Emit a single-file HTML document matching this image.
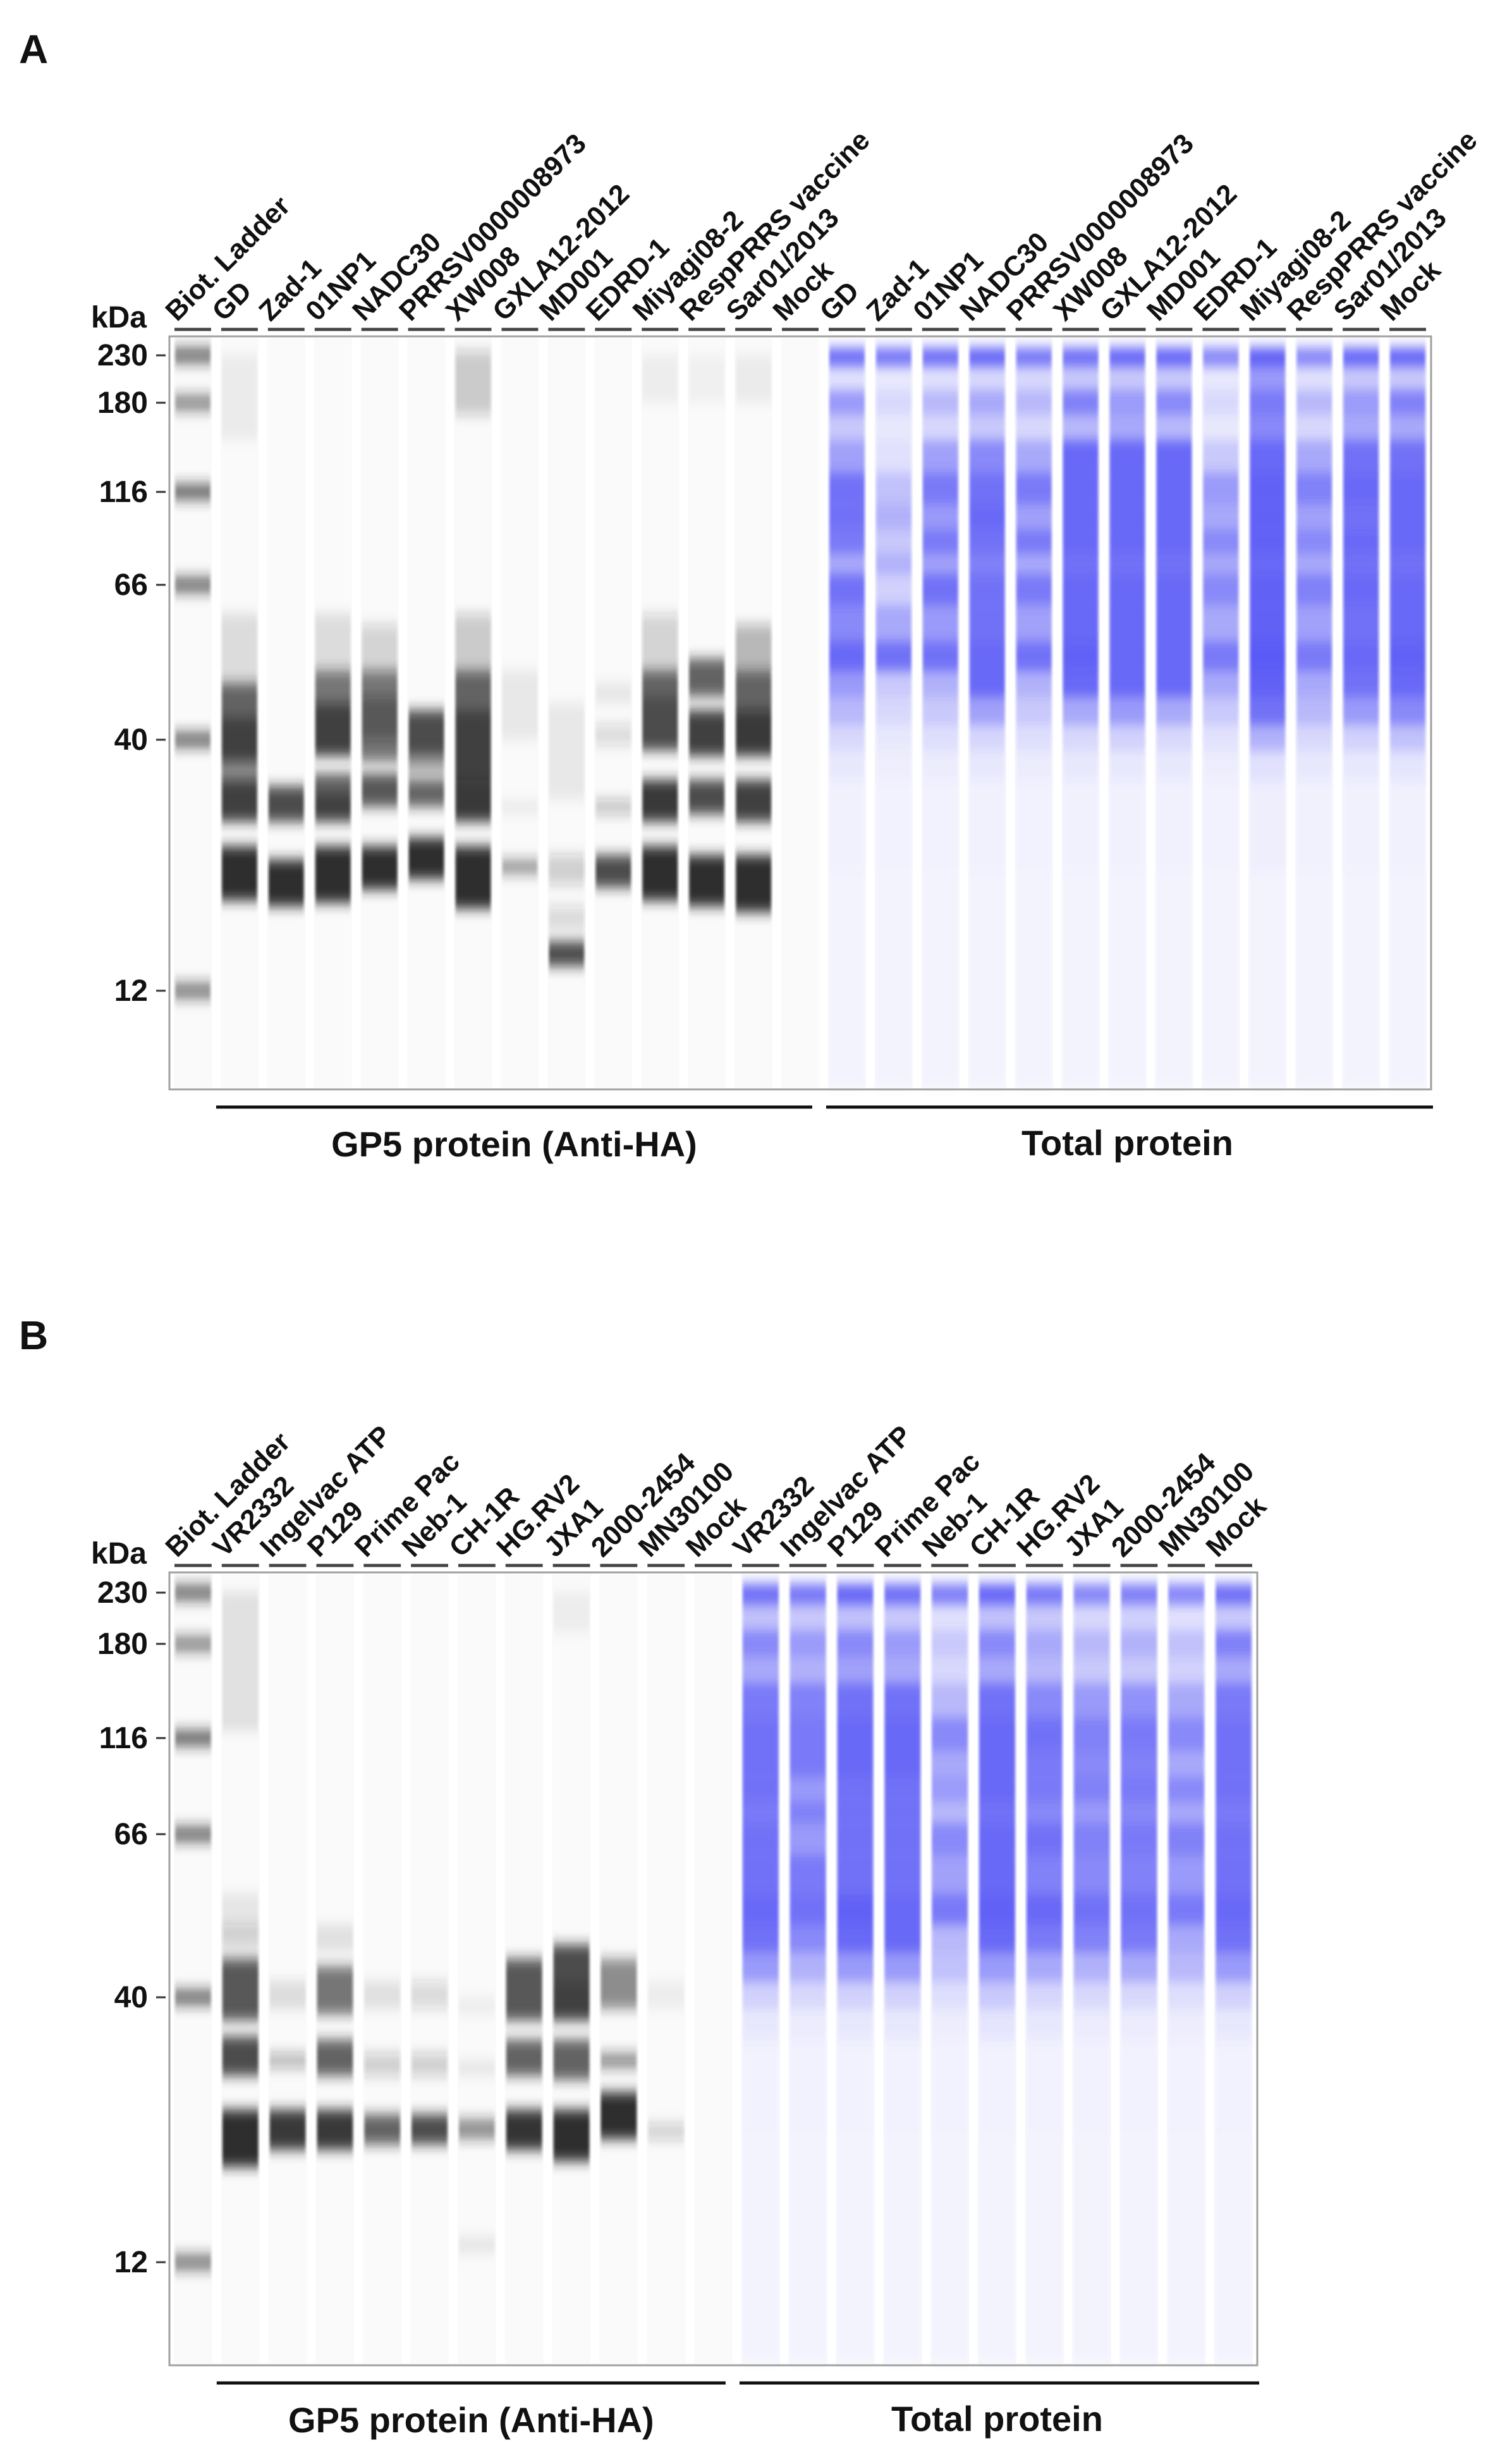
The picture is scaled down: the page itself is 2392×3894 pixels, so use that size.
<!DOCTYPE html>
<html><head><meta charset="utf-8">
<style>
html,body{margin:0;padding:0;background:#fff;}
svg{display:block;}
text{font-family:"Liberation Sans",Arial,sans-serif;font-weight:bold;fill:#111;}
.tick{font-family:"Liberation Sans Narrow","Liberation Sans",sans-serif;font-size:48px;}
</style></head>
<body>
<svg id="fig" width="2392" height="3894" viewBox="0 0 2392 3894" xmlns="http://www.w3.org/2000/svg">
<defs>
<filter id="blurY" x="-5%" y="-50%" width="110%" height="200%"><feGaussianBlur stdDeviation="2 10"/></filter>
<filter id="blurB" x="-5%" y="-50%" width="110%" height="200%"><feGaussianBlur stdDeviation="2 9"/></filter>
</defs>
<text x="30" y="100" font-size="64">A</text>
<text x="30" y="2134" font-size="64">B</text>
<g id="panelA"></g>
<g id="panelB"></g>
</svg>
<script>
// ---------- DATA ----------
const markerKDa = [230, 180, 116, 66, 40, 12];
const ladderIntensity = [0.6, 0.5, 0.65, 0.6, 0.6, 0.55];

const lanesA = ["GD","Zad-1","01NP1","NADC30","PRRSV0000008973","XW008","GXLA12-2012","MD001","EDRD-1","Miyagi08-2","RespPRRS vaccine","Sar01/2013","Mock"];
const lanesB = ["VR2332","Ingelvac ATP","P129","Prime Pac","Neb-1","CH-1R","HG.RV2","JXA1","2000-2454","MN30100","Mock"];

// GP5 bands: [top kDa, bottom kDa, intensity]
const gp5A_GD = [[230,150,.06],[60,48,.12],[48,43,.7],[43,36,.85],[36,33,.5],[33,27,.85],[24,18.5,.95]];
const gp5A_Zad1 = [[32,27,.8],[22.5,18,.95]];
const gp5A_01NP1 = [[60,50,.12],[50,45,.6],[45,37,.85],[34,31,.7],[31,27,.85],[24,18.3,.95]];
const gp5A_NADC30 = [[58,50,.18],[50,46,.6],[46,40,.75],[40,36,.6],[34,29,.75],[24,19.5,.95]];
const gp5A_PRRSV = [[44,37,.8],[37,34,.4],[33,29,.7],[25,20.5,.95]];
const gp5A_XW008 = [[235,170,.22],[60,50,.22],[50,44,.7],[44,33,.85],[33,27,.9],[24,17.8,.95]];
const gp5A_GXLA = [[50,40,.07],[30,28,.06],[22.5,21,.45]];
const gp5A_MD001 = [[45,30,.07],[23,20,.2],[18,16,.15],[15.2,13.5,.8]];
const gp5A_EDRD = [[48,45,.08],[42,39,.15],[30,28,.25],[23,19.7,.8]];
const gp5A_Miyagi = [[230,180,.05],[60,50,.18],[50,46,.7],[46,38,.8],[33,27,.9],[24,18.5,.95]];
const gp5A_Resp = [[230,180,.04],[52,46,.7],[44,37,.85],[33,28,.8],[23,18,.95]];
const gp5A_Sar = [[230,180,.06],[58,50,.3],[50,44,.7],[44,37,.9],[33,27,.85],[23,17.5,.95]];
const gp5A_Mock = [];
const gp5A = [gp5A_GD,gp5A_Zad1,gp5A_01NP1,gp5A_NADC30,gp5A_PRRSV,gp5A_XW008,gp5A_GXLA,gp5A_MD001,gp5A_EDRD,gp5A_Miyagi,gp5A_Resp,gp5A_Sar,gp5A_Mock];

const gp5B_VR = [[230,120,.1],[55,48,.08],[50,46,.15],[45,36,.75],[33.5,28,.8],[24,18.5,.95]];
const gp5B_Ing = [[42,38,.12],[31,29,.3],[24,20,.9]];
const gp5B_P129 = [[50,46,.1],[44,37,.6],[33,28,.7],[24,20,.9]];
const gp5B_Prime = [[42,38,.1],[31,28,.2],[23.5,20.5,.7]];
const gp5B_Neb = [[42,38,.15],[31,28,.2],[23.5,20.5,.8]];
const gp5B_CH = [[40,37,.05],[30,28,.08],[23,21,.5],[13.5,12.5,.08]];
const gp5B_HG = [[45,36,.75],[33,28,.7],[24,20,.92]];
const gp5B_JXA = [[230,190,.05],[47,42,.8],[42,36,.85],[33,27.5,.7],[24,19,.95]];
const gp5B_2000 = [[45,38,.5],[31,29,.5],[26,21,.95]];
const gp5B_MN = [[42,38,.05],[22.5,21,.2]];
const gp5B_Mock = [];
const gp5B = [gp5B_VR,gp5B_Ing,gp5B_P129,gp5B_Prime,gp5B_Neb,gp5B_CH,gp5B_HG,gp5B_JXA,gp5B_2000,gp5B_MN,gp5B_Mock];

// Total protein: intensity at sample kDa positions
const totalKDa = [230,205,180,160,140,116,100,85,75,66,58,52,48,44,40,36,30,15];
const totA_GD = [.85,.15,.6,.3,.55,.85,.85,.8,.5,.85,.7,.9,.6,.4,.2,.1,.05,.03];
const totA_Zad1 = [.8,.1,.2,.1,.15,.35,.45,.3,.45,.25,.5,.85,.3,.2,.1,.06,.04,.03];
const totA_01NP1 = [.85,.15,.4,.2,.55,.8,.6,.8,.55,.85,.6,.85,.45,.3,.16,.08,.04,.03];
const totA_NADC30 = [.9,.2,.5,.3,.7,.85,.9,.85,.75,.85,.85,.9,.9,.55,.22,.1,.05,.03];
const totA_PRRSV = [.8,.2,.4,.2,.5,.8,.55,.8,.5,.8,.55,.85,.45,.3,.16,.08,.04,.03];
const totA_XW008 = [.85,.3,.75,.4,.9,.9,.9,.9,.85,.9,.9,.95,.9,.5,.2,.1,.05,.03];
const totA_GXLA = [.9,.3,.6,.5,.9,.9,.9,.9,.85,.9,.9,.9,.9,.6,.25,.1,.05,.03];
const totA_MD001 = [.9,.3,.7,.4,.9,.9,.9,.9,.85,.9,.9,.9,.9,.5,.2,.1,.05,.03];
const totA_EDRD = [.7,.1,.2,.1,.3,.6,.5,.7,.5,.7,.5,.8,.5,.3,.14,.07,.04,.03];
const totA_Miyagi = [.95,.6,.8,.7,.9,.95,.95,.95,.9,.95,.95,1,.95,.85,.45,.15,.06,.03];
const totA_Resp = [.7,.15,.4,.2,.5,.75,.55,.7,.5,.75,.55,.8,.5,.4,.2,.1,.05,.03];
const totA_Sar = [.9,.3,.6,.5,.85,.9,.85,.9,.85,.9,.85,.9,.85,.6,.25,.1,.05,.03];
const totA_Mock = [.9,.3,.75,.5,.85,.9,.9,.9,.85,.9,.9,.95,.9,.7,.35,.12,.05,.03];
const totA = [totA_GD,totA_Zad1,totA_01NP1,totA_NADC30,totA_PRRSV,totA_XW008,totA_GXLA,totA_MD001,totA_EDRD,totA_Miyagi,totA_Resp,totA_Sar,totA_Mock];

const totB_VR = [.85,.35,.7,.5,.8,.85,.85,.85,.8,.85,.85,.9,.85,.6,.25,.1,.04,.03];
const totB_Ing = [.8,.3,.6,.45,.75,.8,.8,.6,.75,.6,.8,.85,.7,.45,.2,.08,.04,.03];
const totB_P129 = [.9,.35,.7,.55,.85,.9,.9,.85,.85,.85,.85,.95,.9,.6,.25,.1,.04,.03];
const totB_Prime = [.85,.3,.6,.5,.85,.9,.9,.85,.85,.85,.85,.9,.9,.6,.25,.1,.04,.03];
const totB_Neb = [.75,.15,.3,.2,.4,.7,.5,.6,.4,.7,.55,.8,.4,.35,.16,.07,.04,.03];
const totB_CH = [.9,.35,.7,.5,.85,.9,.9,.9,.85,.9,.9,.95,.9,.6,.3,.12,.04,.03];
const totB_HG = [.8,.3,.5,.4,.7,.85,.8,.8,.7,.85,.75,.9,.8,.5,.22,.1,.04,.03];
const totB_JXA = [.7,.2,.4,.3,.6,.75,.7,.75,.6,.75,.7,.85,.75,.45,.2,.08,.04,.03];
const totB_2000 = [.75,.25,.45,.3,.65,.8,.75,.8,.7,.8,.75,.85,.8,.5,.2,.08,.04,.03];
const totB_MN = [.7,.15,.35,.25,.5,.7,.5,.7,.5,.75,.6,.8,.5,.4,.16,.07,.04,.03];
const totB_Mock = [.85,.3,.75,.5,.8,.85,.85,.85,.8,.85,.85,.9,.85,.6,.25,.1,.04,.03];
const totB = [totB_VR,totB_Ing,totB_P129,totB_Prime,totB_Neb,totB_CH,totB_HG,totB_JXA,totB_2000,totB_MN,totB_Mock];

// ---------- DRAW ----------
const NS = "http://www.w3.org/2000/svg";
function el(tag, attrs, parent){const e=document.createElementNS(NS,tag);for(const k in attrs)e.setAttribute(k,attrs[k]);parent.appendChild(e);return e;}

function makeAxis(markerY){
  const L = markerKDa.map(k=>Math.log(k));
  return function(k){
    const l=Math.log(k);
    let i=0;
    if(l>=L[0]) i=0; else if(l<=L[L.length-1]) i=L.length-2;
    else { while(!(l<=L[i] && l>=L[i+1])) i++; }
    const t=(L[i]-l)/(L[i]-L[i+1]);
    return markerY[i]+t*(markerY[i+1]-markerY[i]);
  };
}

function drawPanel(g, cfg){
  const y = makeAxis(cfg.markerY);
  const nL = 1 + cfg.names.length*2;
  const pitch = (cfg.x1-cfg.x0)/nL;
  const laneL = i => cfg.x0 + i*pitch;
  const box = el('rect',{x:cfg.x0,y:cfg.y0,width:cfg.x1-cfg.x0,height:cfg.y1-cfg.y0,fill:'#ffffff'},g);
  
  
  const kd = el('text',{x:232,y:cfg.y0-14,'text-anchor':'end','class':'tick'},g);
  kd.textContent='kDa';
  
  
  markerKDa.forEach((k,i)=>{
    const yy=y(k);
    const tl=el('line',{x1:247,x2:262,y1:yy,y2:yy,stroke:'#333','stroke-width':3},g);
    
    
    const tt=el('text',{x:234,y:yy+16,'text-anchor':'end','class':'tick'},g);
    tt.textContent=String(k);
    
    
  });
  const allNames = ['Biot. Ladder'].concat(cfg.names, cfg.names);
  for(let i=0;i<nL;i++){
    const lx=laneL(i)+7, lw=pitch-14;
    const isTotal = i>cfg.names.length;
    const lg = el('g',{},g);
    
    
    el('rect',{x:lx,y:cfg.y0+3,width:lw,height:cfg.y1-cfg.y0-6,fill:isTotal?'#f8f8fe':'#fafafa'},lg);
    const bg = el('g',{filter:isTotal?'url(#blurB)':'url(#blurY)'},lg);
    if(i===0){
      markerKDa.forEach((k,j)=>{
        const b=el('rect',{x:lx+2,y:y(k)-13,width:lw-4,height:26,fill:'#222','fill-opacity':ladderIntensity[j]},bg);
        
        
      });
    } else if(!isTotal){
      cfg.gp5[i-1].forEach(bd=>{
        const t=Math.max(y(bd[0]),cfg.y0+4), bt=y(bd[1]);
        const b=el('rect',{x:lx+2,y:t,width:lw-4,height:Math.max(bt-t,4),fill:'#222','fill-opacity':bd[2]},bg);
        
        
      });
    } else {
      const vals = cfg.tot[i-1-cfg.names.length];
      for(let s=0;s<totalKDa.length;s++){
        const yc=y(totalKDa[s]);
        const ya = s===0 ? cfg.y0+18 : (y(totalKDa[s-1])+yc)/2;
        const yb = s===totalKDa.length-1 ? cfg.y1-4 : (yc+y(totalKDa[s+1]))/2;
        const b=el('rect',{x:lx+2,y:ya,width:lw-4,height:yb-ya,fill:'#5a5af6','fill-opacity':vals[s]},bg);
        
        
      }
    }
    const d=el('line',{x1:laneL(i)+8,x2:laneL(i)+pitch-8,y1:cfg.y0-11,y2:cfg.y0-11,stroke:'#444','stroke-width':5},g);
    
    
    const tx=laneL(i)+12, ty=cfg.y0-22;
    const lt=el('text',{x:tx,y:ty,'font-size':44,transform:'rotate(-45 '+tx+' '+ty+')'},g);
    lt.textContent=allNames[i];
    
    
  }
  const border=el('rect',{x:cfg.x0,y:cfg.y0,width:cfg.x1-cfg.x0,height:cfg.y1-cfg.y0,fill:'none',stroke:'#a0a0a0','stroke-width':3},g);
  
  
  const split = laneL(cfg.names.length+1);
  const gl1=el('line',{x1:laneL(1),x2:split-18,y1:cfg.y1+28,y2:cfg.y1+28,stroke:'#111','stroke-width':5},g);
  
  
  const gl2=el('line',{x1:split+4,x2:cfg.x1+3,y1:cfg.y1+28,y2:cfg.y1+28,stroke:'#111','stroke-width':5},g);
  
  
  const t1=el('text',{x:(laneL(1)+split-18)/2,y:cfg.y1+106,'text-anchor':'middle','font-size':56},g);
  t1.textContent='GP5 protein (Anti-HA)';
  
  
  const t2=el('text',{x:(split+cfg.x1)/2,y:cfg.y1+104,'text-anchor':'middle','font-size':56},g);
  t2.textContent='Total protein';
  
  
}

drawPanel(document.getElementById('panelA'),{x0:268,y0:532,x1:2264,y1:1723,markerY:[562,637,778,925,1170,1567],names:lanesA,gp5:gp5A,tot:totA});
drawPanel(document.getElementById('panelB'),{x0:268,y0:2487,x1:1989,y1:3741,markerY:[2519,2600,2749,2901,3159,3578],names:lanesB,gp5:gp5B,tot:totB});
</script>
</body></html>
